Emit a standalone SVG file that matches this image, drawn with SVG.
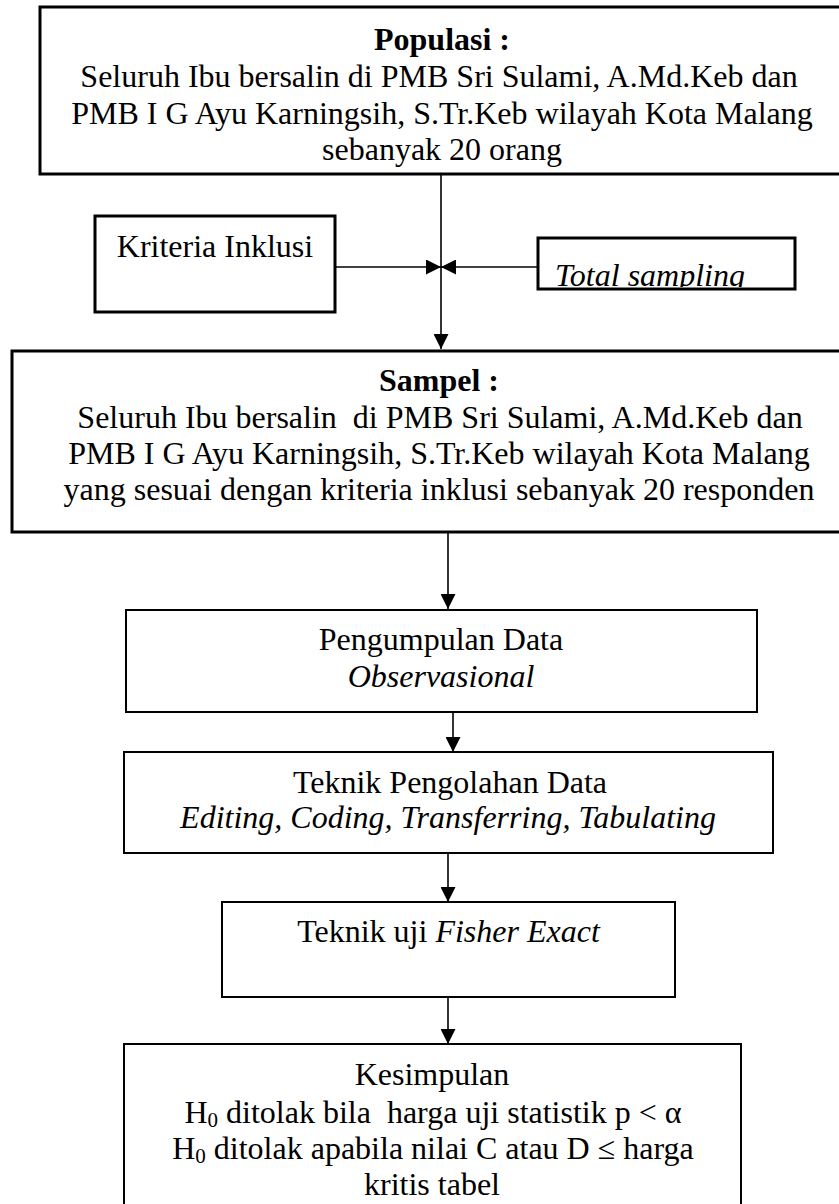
<svg xmlns="http://www.w3.org/2000/svg" width="839" height="1204" viewBox="0 0 839 1204">
<style>
text{font-family:"Liberation Serif","Times New Roman",serif;font-size:32px;fill:#000}
.c{text-anchor:middle}
.b{font-weight:bold}
.i{font-style:italic}
.thick{fill:#fff;stroke:#000;stroke-width:3}
.box{fill:#fff;stroke:#000;stroke-width:2}
.ln{stroke:#000;stroke-width:1.6;fill:none}
.sub{font-size:21px}
</style>
<defs>
<marker id="ah" markerUnits="userSpaceOnUse" markerWidth="15" markerHeight="15" refX="15" refY="7.5" orient="auto">
<path d="M0,0 L15,7.5 L0,15 z" fill="#000"/>
</marker>
<clipPath id="tsclip"><rect x="538" y="238" width="257" height="49"/></clipPath>
</defs>
<rect width="839" height="1204" fill="#fff"/>
<g id="connectors">
<line class="ln" x1="441" y1="174" x2="441" y2="349" marker-end="url(#ah)"/>
<line class="ln" x1="335" y1="267" x2="441" y2="267" marker-end="url(#ah)"/>
<line class="ln" x1="538" y1="267" x2="441" y2="267" marker-end="url(#ah)"/>
<line class="ln" x1="448" y1="532" x2="448" y2="609" marker-end="url(#ah)"/>
<line class="ln" x1="453" y1="712" x2="453" y2="752" marker-end="url(#ah)"/>
<line class="ln" x1="448" y1="853" x2="448" y2="902" marker-end="url(#ah)"/>
<line class="ln" x1="448" y1="997" x2="448" y2="1044" marker-end="url(#ah)"/>
</g>
<g id="populasi">
<rect class="thick" x="40" y="7" width="820" height="167"/>
<text class="c b" x="442" y="50">Populasi :</text>
<text class="c" x="439" y="87">Seluruh Ibu bersalin di PMB Sri Sulami, A.Md.Keb dan</text>
<text class="c" x="442" y="124">PMB I G Ayu Karningsih, S.Tr.Keb wilayah Kota Malang</text>
<text class="c" x="442" y="160">sebanyak 20 orang</text>
</g>
<g id="kriteria">
<rect class="thick" x="95" y="216" width="240" height="96"/>
<text class="c" x="215" y="257">Kriteria Inklusi</text>
</g>
<g id="total-sampling">
<rect class="thick" x="538" y="238" width="257" height="51"/>
<text class="i" x="555" y="286" clip-path="url(#tsclip)">Total sampling</text>
</g>
<g id="sampel">
<rect class="thick" x="12" y="351" width="848" height="181"/>
<text class="c b" x="439" y="391">Sampel :</text>
<text class="c" x="440" y="428" xml:space="preserve">Seluruh Ibu bersalin  di PMB Sri Sulami, A.Md.Keb dan</text>
<text class="c" x="439" y="464">PMB I G Ayu Karningsih, S.Tr.Keb wilayah Kota Malang</text>
<text class="c" x="439" y="500">yang sesuai dengan kriteria inklusi sebanyak 20 responden</text>
</g>
<g id="pengumpulan">
<rect class="box" x="126" y="610" width="631" height="102"/>
<text class="c" x="441" y="650">Pengumpulan Data</text>
<text class="c i" x="441" y="687">Observasional</text>
</g>
<g id="pengolahan">
<rect class="box" x="124" y="752" width="649" height="101"/>
<text class="c" x="450" y="793">Teknik Pengolahan Data</text>
<text class="c i" x="448" y="828">Editing, Coding, Transferring, Tabulating</text>
</g>
<g id="fisher">
<rect class="box" x="222" y="902" width="453" height="95"/>
<text class="c" x="448.5" y="942">Teknik uji <tspan class="i">Fisher Exact</tspan></text>
</g>
<g id="kesimpulan">
<rect class="box" x="124" y="1044" width="617" height="170"/>
<text class="c" x="432" y="1085">Kesimpulan</text>
<text class="c" x="433" y="1123" xml:space="preserve">H<tspan class="sub" dy="4">0</tspan><tspan dy="-4"> ditolak bila  harga uji statistik p &lt; α</tspan></text>
<text class="c" x="433" y="1159">H<tspan class="sub" dy="4">0</tspan><tspan dy="-4"> ditolak apabila nilai C atau D ≤ harga</tspan></text>
<text class="c" x="432" y="1195">kritis tabel</text>
</g>
</svg>
